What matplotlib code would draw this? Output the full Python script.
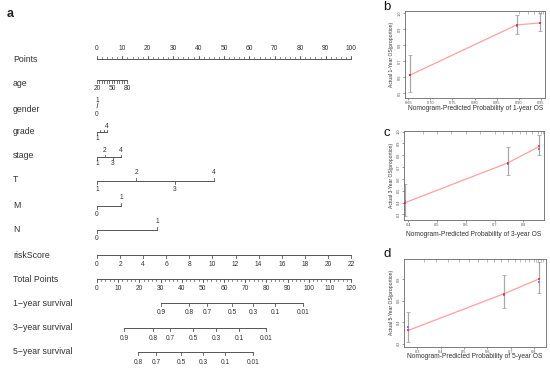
import numpy as np
import matplotlib.pyplot as plt

plt.rcParams['font.family'] = ['Liberation Sans', 'DejaVu Sans']

# ---------------- nomogram data ----------------
points_ticks = list(range(0, 101, 10))

age_vals = [20, 25, 30, 35, 40, 45, 50, 55, 60, 65, 70, 75, 80]
age_max_pts = 11.8
age_labels = {20: '20', 50: '50', 80: '80'}

gender_vals = ['0', '1']
gender_pts = [0, 0.4]

grade_vals = ['1', '2', '3', '4']
grade_pts = [0, 1.3, 2.6, 3.9]
grade_show = ['1', '', '', '4']

stage_vals = ['1', '2', '3', '4']
stage_pts = [0, 3.1, 6.3, 9.4]

T_vals = ['1', '2', '3', '4']
T_pts = [0, 15.4, 30.7, 46.1]

M_vals = ['0', '1']
M_pts = [0, 9.4]

N_vals = ['0', '1']
N_pts = [0, 23.6]

risk_ticks = list(range(0, 23, 2))
risk_max = 22

total_ticks = list(range(0, 121, 10))
total_max = 120

surv1_labels = ['0.9', '0.8', '0.7', '0.5', '0.3', '0.1', '0.01']
surv1_total = [30.2, 43.5, 52.0, 63.8, 73.7, 84.1, 97.4]
surv3_labels = ['0.9', '0.8', '0.7', '0.5', '0.3', '0.1', '0.01']
surv3_total = [12.8, 26.5, 34.5, 45.3, 56.2, 67.1, 79.8]
surv5_labels = ['0.8', '0.7', '0.5', '0.3', '0.1', '0.01']
surv5_total = [19.4, 27.9, 39.7, 50.1, 60.5, 73.7]

# ---------------- calibration data ----------------
b_x = [0.654, 0.895, 0.949]
b_red = [0.614, 0.927, 0.940]
b_blue = [0.612, 0.922, 0.937]
b_lo = [0.506, 0.870, 0.890]
b_hi = [0.740, 0.990, 1.000]
b_rug = [0.90, 0.92, 0.935, 0.945, 0.95, 0.955]

c_x = [0.390, 0.746, 0.856]
c_red = [0.400, 0.735, 0.875]
c_blue = [0.410, 0.725, 0.855]
c_lo = [0.290, 0.630, 0.800]
c_hi = [0.560, 0.870, 0.970]
c_rug = [0.45, 0.50, 0.55, 0.60, 0.65, 0.70, 0.73, 0.76, 0.79, 0.81, 0.83, 0.85, 0.86, 0.87]

d_x = [0.261, 0.671, 0.823]
d_red = [0.324, 0.662, 0.800]
d_blue = [0.358, 0.655, 0.767]
d_lo = [0.215, 0.532, 0.674]
d_hi = [0.495, 0.836, 0.960]
d_rug = [0.33, 0.38, 0.43, 0.48, 0.52, 0.56, 0.60, 0.63, 0.66, 0.69, 0.72, 0.74,
         0.76, 0.78, 0.80, 0.81, 0.82, 0.83, 0.84]

line_col = '#555555'
txt_col = '#333333'

fig = plt.figure(figsize=(5.5, 3.71), dpi=100)
ax = fig.add_axes([0, 0, 1, 1])
px = 2.54  # pixels per nomogram point
ax.set_xlim(-97 / px, 453 / px)
ax.set_ylim(371, 0)
ax.axis('off')

name_x = (13 - 97) / px


def row_name(y, name):
    ax.text(name_x, y, name, fontsize=6.3, color=txt_col, va='center', ha='left')


def scale(y, xs, labels, sides, off=8, tick=3, lw=0.7, minor=None, minor_side='a'):
    ax.plot([min(xs), max(xs)], [y, y], color=line_col, lw=lw)
    if minor is not None:
        md = -1 if minor_side == 'a' else 1
        for m in minor:
            ax.plot([m, m], [y, y + md * 1.6], color=line_col, lw=0.5)
    for xv, lab, s in zip(xs, labels, sides):
        d = -1 if s == 'a' else 1
        ax.plot([xv, xv], [y, y + d * tick], color=line_col, lw=0.6)
        if lab:
            ax.text(xv, y + d * off, lab, fontsize=4.8, color=txt_col,
                    ha='center', va='center')


# Points
row_name(59, 'Points')
scale(59, points_ticks, [str(p) for p in points_ticks], ['a'] * 11, off=10,
      tick=3, minor=list(np.arange(0, 101, 2)), minor_side='a')

# age
row_name(83, 'age')
age_pts = [(v - age_vals[0]) / (age_vals[-1] - age_vals[0]) * age_max_pts for v in age_vals]
scale(80, age_pts, [age_labels.get(v, '') for v in age_vals], ['b'] * len(age_vals),
      off=9, tick=2.5)

# gender
row_name(110, 'gender')
ax.plot([gender_pts[0], gender_pts[1]], [108, 103], color=line_col, lw=0.6)
ax.text(0, 100, gender_vals[1], fontsize=4.8, color=txt_col, ha='center', va='center')
ax.text(0, 114, gender_vals[0], fontsize=4.8, color=txt_col, ha='center', va='center')

# grade
row_name(131, 'grade')
scale(132, grade_pts, grade_show, ['b', 'a', 'a', 'a'], off=6, tick=2.5)

# stage
row_name(155, 'stage')
scale(157, stage_pts, stage_vals, ['b', 'a', 'b', 'a'], off=6.5, tick=2.5)

# T
row_name(180, 'T')
scale(181, T_pts, T_vals, ['b', 'a', 'b', 'a'], off=8.5, tick=3)

# M
row_name(205, 'M')
scale(206, M_pts, M_vals, ['b', 'a'], off=8.5, tick=3)

# N
row_name(229, 'N')
scale(230, N_pts, N_vals, ['b', 'a'], off=8.5, tick=3)

# riskScore
row_name(255, 'riskScore')
scale(255, [r / risk_max * 100 for r in risk_ticks], [str(r) for r in risk_ticks],
      ['b'] * len(risk_ticks), off=10, tick=3)

# Total Points
row_name(279, 'Total Points')
scale(279, [t / total_max * 100 for t in total_ticks], [str(t) for t in total_ticks],
      ['b'] * len(total_ticks), off=10, tick=3,
      minor=[m / total_max * 100 for m in range(0, 121, 2)], minor_side='b')

# survival rows
for y, name, labs, tot in [(303, '1\u2212year survival', surv1_labels, surv1_total),
                           (328, '3\u2212year survival', surv3_labels, surv3_total),
                           (352, '5\u2212year survival', surv5_labels, surv5_total)]:
    row_name(y, name)
    scale(y, [t / total_max * 100 for t in tot], labs, ['b'] * len(labs), off=10, tick=3)

ax.text(name_x - 2.5, 14, 'a', fontsize=9, fontweight='bold', color='#222222',
        va='center', ha='left')


# ---------------- calibration panels ----------------
def calib(rect, x, red, blue, lo, hi, rug, xlim, ylim, xticks, yticks, xfmt, yfmt,
          xlab, ylab, letter, letter_y, xlab_y):
    a = fig.add_axes(rect)
    a.errorbar(x, red, yerr=[np.array(red) - np.array(lo), np.array(hi) - np.array(red)],
               fmt='none', ecolor='#a8a8a8', elinewidth=0.9, capsize=1.3, capthick=0.6)
    a.plot(x, red, color='#ffa0a0', lw=0.9, zorder=3)
    a.plot(x, blue, 's', color='#7a7aff', ms=1.7, mew=0, zorder=4)
    a.plot(x, red, 's', color='#ee2222', ms=1.7, mew=0, alpha=0.75, zorder=5)
    a.vlines(rug, 0.965, 1.0, transform=a.get_xaxis_transform(), color='#888888', lw=0.4)
    a.set_xlim(*xlim)
    a.set_ylim(*ylim)
    a.set_xticks(xticks)
    a.set_yticks(yticks)
    a.set_xticklabels([xfmt % t for t in xticks])
    a.set_yticklabels([yfmt % t for t in yticks], rotation=90, va='center')
    a.tick_params(labelsize=2.8, length=1.5, width=0.4, pad=1, colors='#555555')
    for s in a.spines.values():
        s.set_linewidth(0.6)
        s.set_color('#666666')
    fig.text(383 / 550, 1 - letter_y / 371, letter, fontsize=9.5, color='#111111',
             ha='left', va='center')
    fig.text((rect[0] + rect[2] / 2), 1 - xlab_y / 371, xlab, fontsize=4.8,
             color=txt_col, ha='center', va='center')
    fig.text(391 / 550, rect[1] + rect[3] / 2, ylab, fontsize=3.6, color=txt_col,
             ha='center', va='center', rotation=90)


calib([405 / 550, 1 - 97.5 / 371, 140.5 / 550, 86.8 / 371],
      b_x, b_red, b_blue, b_lo, b_hi, b_rug, (0.6425, 0.9606), (0.474, 1.016),
      [0.65, 0.70, 0.75, 0.80, 0.85, 0.90, 0.95], [0.5, 0.6, 0.7, 0.8, 0.9, 1.0],
      '%.2f', '%.1f', 'Nomogram-Predicted Probability of 1-year OS',
      'Actual 1-Year OS(proportion)', 'b', 7, 109)

calib([404 / 550, 1 - 220 / 371, 140 / 550, 89.3 / 371],
      c_x, c_red, c_blue, c_lo, c_hi, c_rug, (0.385, 0.872), (0.252, 1.008),
      [0.4, 0.5, 0.6, 0.7, 0.8], [0.3, 0.4, 0.5, 0.6, 0.7, 0.8, 0.9, 1.0],
      '%.1f', '%.1f', 'Nomogram-Predicted Probability of 3-year OS',
      'Actual 3-Year OS(proportion)', 'c', 133, 234)

calib([404.3 / 550, 1 - 346.5 / 371, 141.4 / 550, 87.5 / 371],
      d_x, d_red, d_blue, d_lo, d_hi, d_rug, (0.244, 0.851), (0.175, 0.984),
      [0.3, 0.4, 0.5, 0.6, 0.7, 0.8], [0.2, 0.4, 0.6, 0.8],
      '%.1f', '%.1f', 'Nomogram-Predicted Probability of 5-year OS',
      'Actual 5-Year OS(proportion)', 'd', 254, 357)

fig.savefig('out.png', dpi=100)
